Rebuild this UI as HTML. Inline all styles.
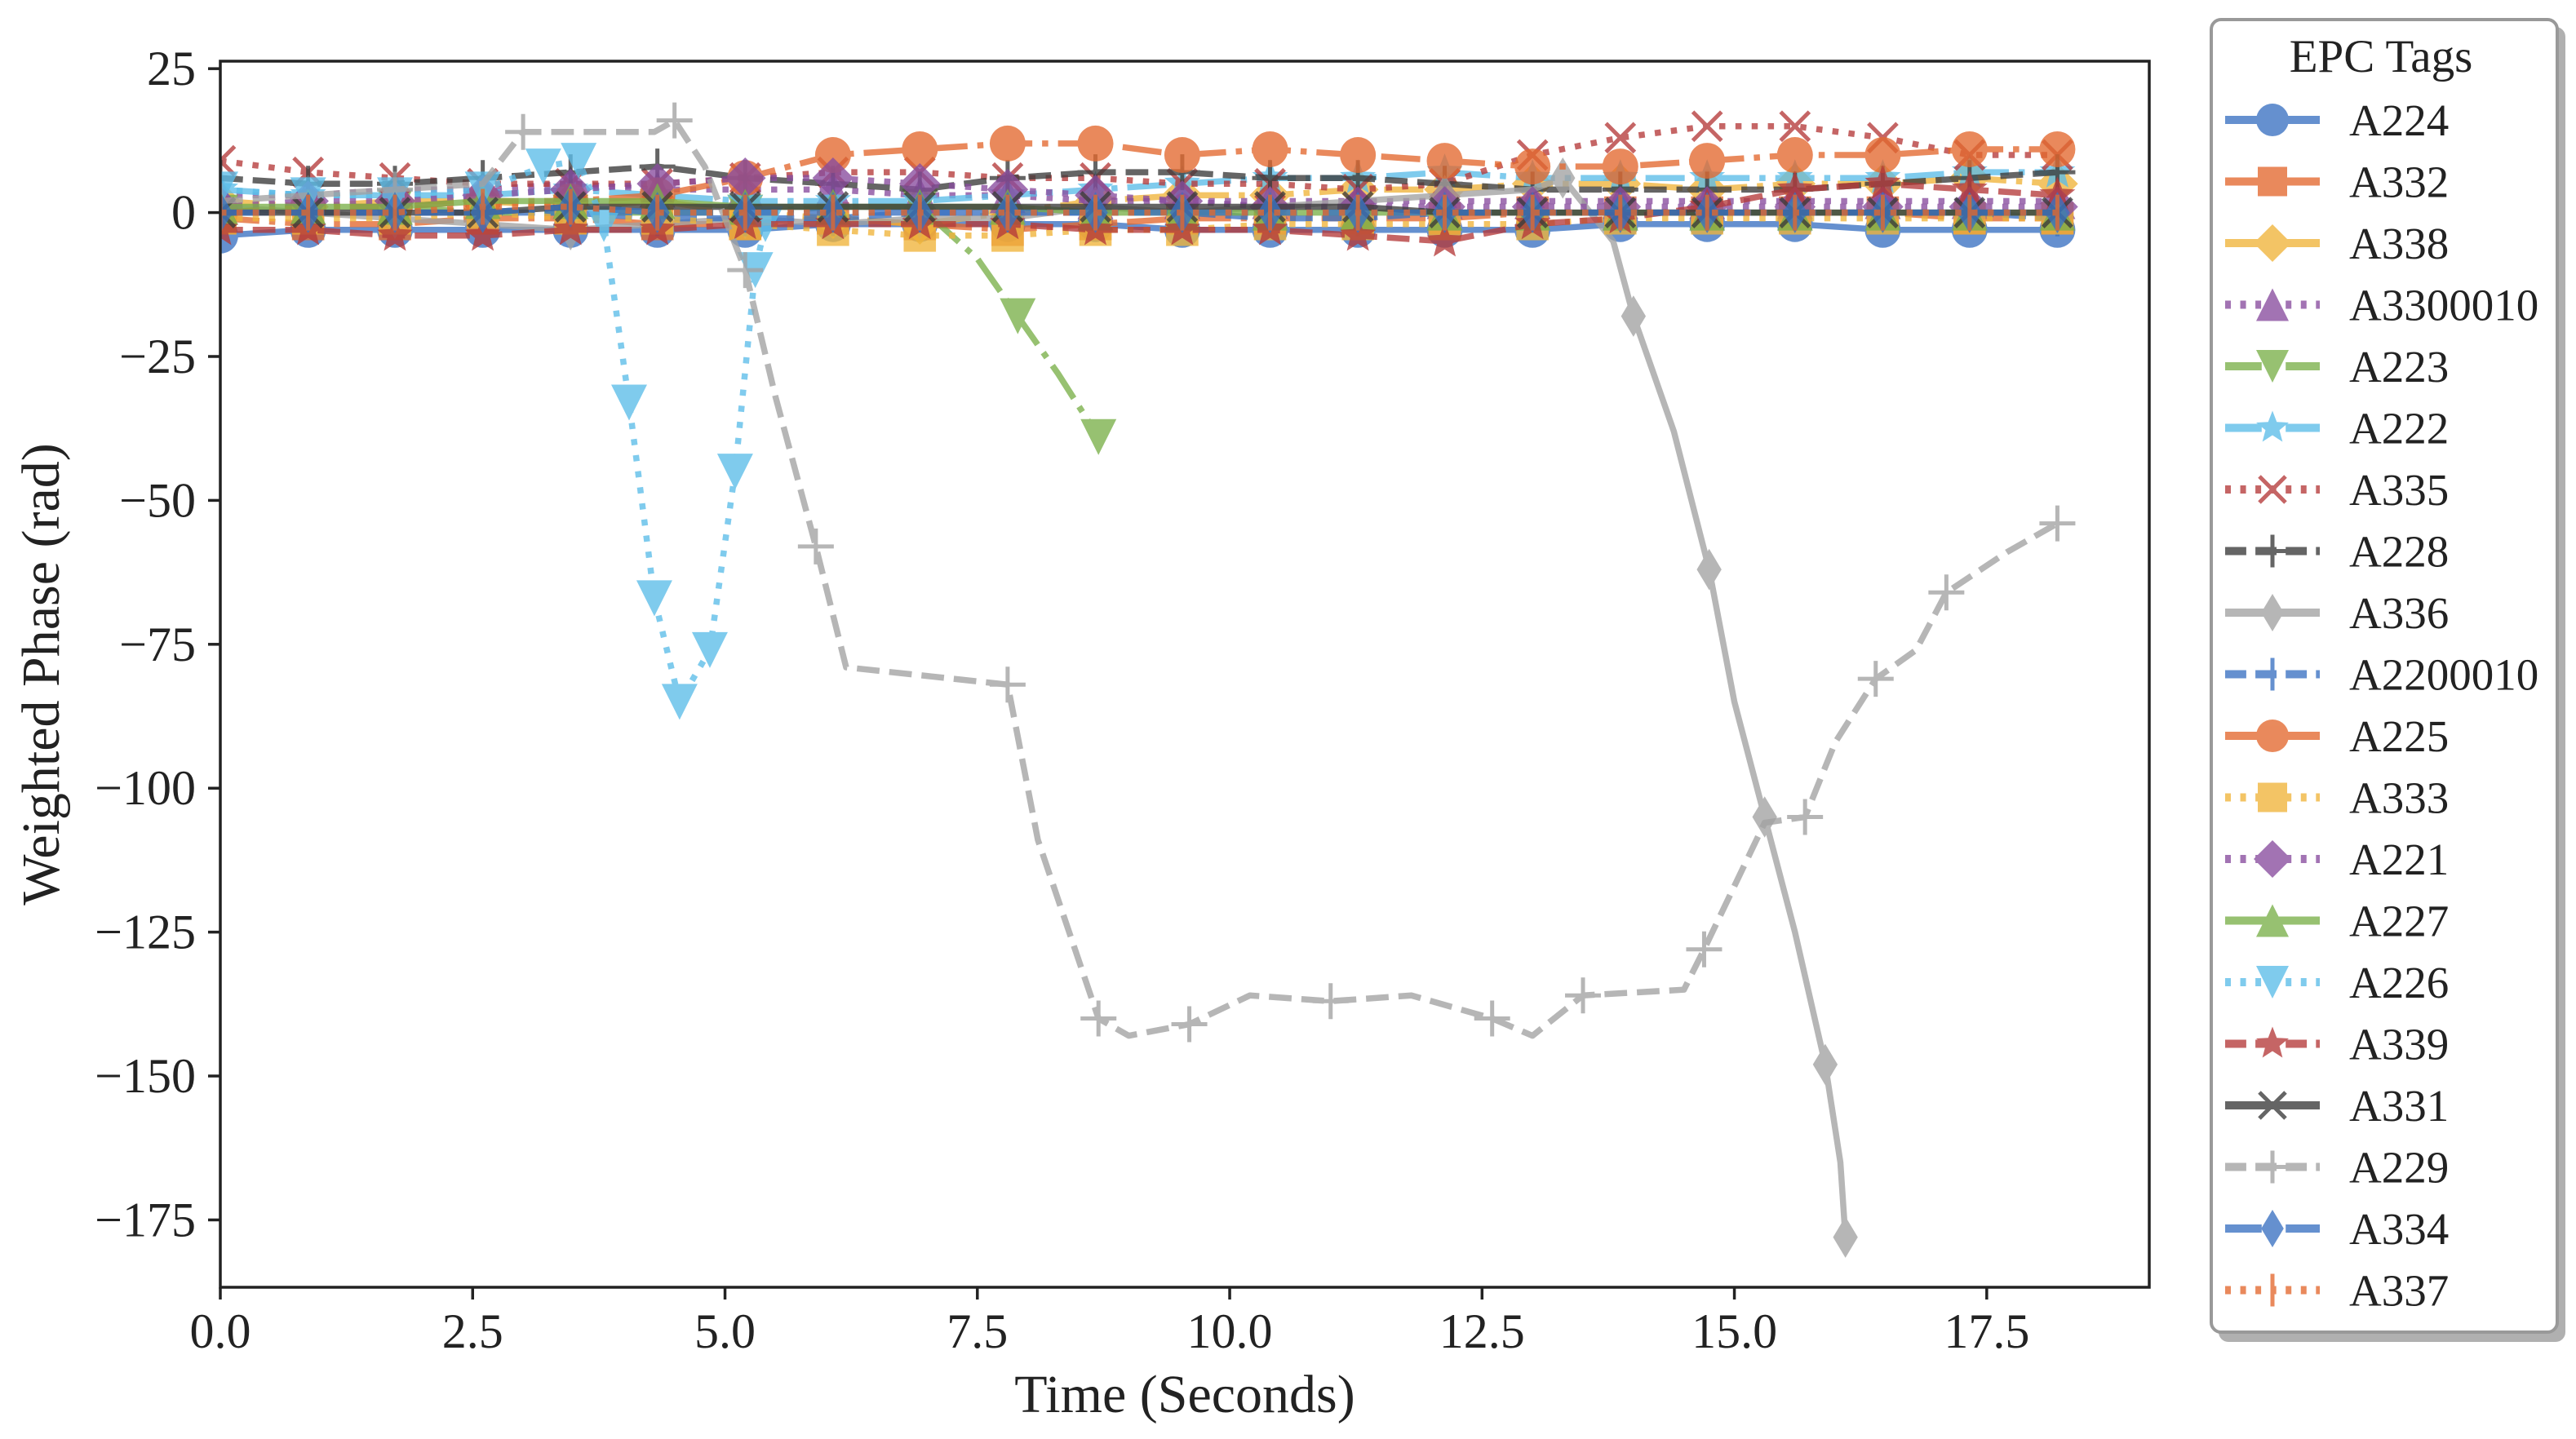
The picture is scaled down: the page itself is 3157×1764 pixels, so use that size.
<!DOCTYPE html>
<html><head><meta charset="utf-8">
<style>
html,body{margin:0;padding:0;background:#fff;}
svg{display:block;font-family:"Liberation Serif",serif;}
</style></head>
<body>
<svg id="chart" width="3157" height="1764" viewBox="0 0 3157 1764">
<rect x="0" y="0" width="3157" height="1764" fill="#fff"/>
<g id="plot"></g>
<g id="axes"></g>
<g id="legend"></g>
</svg>
<script>
// ---- data ----
const names = ["A224","A332","A338","A3300010","A223","A222","A335","A228","A336","A2200010","A225","A333","A221","A227","A226","A339","A331","A229","A334","A337"];
const colors = ["#3a72c2","#e3692f","#f0b43a","#884c9e","#7ab04a","#5cbde9","#b53a3a","#3b3b3b","#a2a2a2","#3a72c2","#e3692f","#f0b43a","#884c9e","#7ab04a","#5cbde9","#b53a3a","#3b3b3b","#a2a2a2","#3a72c2","#e3692f"];
const styles = ["solid","dashdot","dashdot","dotted","dashdot","dashdot","dotted","dashed","solid","dashed","dashdot","dotted","dotted","solid","dotted","dashed","solid","dashed","dashdot","dotted"];
const markers = ["o","s","D","^","v","*","x","+","d","|","o","s","D","^","v","*","x","+","d","|"];
const tGrid = [0,0.87,1.73,2.6,3.47,4.33,5.2,6.07,6.93,7.8,8.67,9.53,10.4,11.27,12.13,13,13.87,14.73,15.6,16.47,17.33,18.2];
const vA224 = [-4,-3,-3,-3,-3,-3,-3,-2,-2,-2,-2,-3,-3,-3,-3,-3,-2,-2,-2,-3,-3,-3];
const vA332 = [-1,-2,-2,-1,-1,-2,-2,-1,-2,-3,-2,-1,-1,-1,-1,0,0,0,0,0,-1,-1];
const vA338 = [2,1,2,2,1,2,0,-1,-2,0,2,3,3,4,4,5,5,4,5,5,6,5];
const vA3300010 = [3,3,4,4,5,4,4,4,3,3,2,2,2,2,2,2,2,2,2,2,2,2];
const vA222 = [4,3,3,3,4,3,2,2,2,3,4,5,6,6,7,6,6,6,6,6,7,7];
const vA335 = [9,7,6,5,5,5,6,7,7,6,6,5,5,4,5,10,13,15,15,13,10,10];
const vA228 = [6,5,5,6,7,8,6,5,4,6,7,7,6,6,5,4,4,4,4,5,6,7];
const vA2200010 = [0,0,0,0,0,-1,-1,-1,0,0,0,0,-1,-1,0,0,0,0,0,0,0,-1];
const vA225 = [0,1,1,2,2,3,6,10,11,12,12,10,11,10,9,8,8,9,10,10,11,11];
const vA333 = [-1,-1,-1,0,-1,-1,-2,-3,-4,-4,-3,-3,-2,-2,-2,-2,-1,-1,-1,-1,-1,-1];
const vA221 = [1,2,2,3,4,5,6,6,5,4,3,2,1,1,1,1,1,1,1,1,1,1];
const vA227 = [1,1,1,2,2,2,1,1,1,1,0,0,0,0,0,0,0,0,0,0,0,0];
const vA339 = [-3,-3,-4,-4,-3,-3,-2,-2,-2,-2,-3,-3,-3,-4,-5,-2,-1,1,4,5,4,3];
const vA331 = [0,0,0,0,1,1,1,1,1,1,1,1,1,1,0,0,0,0,0,0,0,0];
const vA334 = [0,0,0,0,1,0,0,0,0,0,0,0,0,0,0,0,0,0,0,0,0,0];
const vA337 = [0,0,0,1,1,0,0,0,0,0,0,0,0,0,0,0,0,0,0,0,0,0];
const tA223 = [0,0.87,1.73,2.6,3.47,4.33,5.2,6.07,6.93,7.5,7.9,8.3,8.7];
const vA223 = [0,1,1,0,0,0,0,1,1,-8,-18,-28,-39];
const tA226 = [0,0.87,1.73,2.6,3.2,3.55,3.8,4.05,4.3,4.55,4.85,5.1,5.3,5.4];
const vA226 = [4,3,3,4,8,9,-2,-33,-67,-85,-76,-45,-10,-2];
const tA229 = [0,0.87,1.73,2.6,3.0,4.3,4.5,4.8,5.2,5.5,5.9,6.2,7.8,8.1,8.7,9.0,9.6,10.2,11.0,11.8,12.6,13.0,13.5,14.5,14.7,15.3,15.7,16.0,16.4,16.8,17.1,17.7,18.2];
const vA229 = [2,3,4,5,14,14,16,8,-10,-32,-58,-79,-82,-109,-140,-143,-141,-136,-137,-136,-140,-143,-136,-135,-128,-106,-105,-92,-81,-76,-66,-59,-54];
const tA336 = [0,0.87,1.73,2.6,3.47,4.33,5.2,6.07,6.93,7.8,8.67,9.53,10.4,11.27,12.13,13.0,13.3,13.8,14.0,14.4,14.75,15.0,15.3,15.6,15.9,16.05,16.1];
const vA336 = [1,0,-1,-2,-3,-2,-1,-2,-1,-1,1,0,1,2,3,4,6,-5,-18,-38,-62,-85,-105,-125,-148,-165,-178];
const xTicks = [0,2.5,5,7.5,10,12.5,15,17.5];
const xTickLabels = ["0.0","2.5","5.0","7.5","10.0","12.5","15.0","17.5"];
const yTicks = [25,0,-25,-50,-75,-100,-125,-150,-175];
const yTickLabels = ["25","0","\u221225","\u221250","\u221275","\u2212100","\u2212125","\u2212150","\u2212175"];
const seriesT = [tGrid,tGrid,tGrid,tGrid,tA223,tGrid,tGrid,tGrid,tA336,tGrid,tGrid,tGrid,tGrid,tGrid,tA226,tGrid,tGrid,tA229,tGrid,tGrid];
const seriesV = [vA224,vA332,vA338,vA3300010,vA223,vA222,vA335,vA228,vA336,vA2200010,vA225,vA333,vA221,vA227,vA226,vA339,vA331,vA229,vA334,vA337];

// ---- axes geometry ----
const L=270,R=2634,T=75,B=1578;
const xMin=0,xMax=19.11,yMin=-186.7,yMax=26.3;
const sx=v=>L+(v-xMin)/(xMax-xMin)*(R-L);
const sy=v=>B-(v-yMin)/(yMax-yMin)*(B-T);
const NS="http://www.w3.org/2000/svg";
function mk(tag,attrs,parent){const e=document.createElementNS(NS,tag);for(const k in attrs)e.setAttribute(k,attrs[k]);parent.appendChild(e);return e;}
const LW=7.5;
function dash(s,lw){if(s==="dashed")return (3.7*lw)+" "+(1.6*lw);if(s==="dotted")return lw+" "+(1.65*lw);if(s==="dashdot")return (6.4*lw)+" "+(1.6*lw)+" "+lw+" "+(1.6*lw);return "none";}
function markerPath(m,x,y,r){
  switch(m){
    case "o":return `M${x-r},${y}a${r},${r} 0 1,0 ${2*r},0a${r},${r} 0 1,0 ${-2*r},0Z`;
    case "s":{const a=r*0.9;return `M${x-a},${y-a}h${2*a}v${2*a}h${-2*a}Z`;}
    case "D":{const a=r*1.15;return `M${x},${y-a}L${x+a},${y}L${x},${y+a}L${x-a},${y}Z`;}
    case "d":{const a=r*1.15;return `M${x},${y-a}L${x+a*0.6},${y}L${x},${y+a}L${x-a*0.6},${y}Z`;}
    case "^":return `M${x},${y-r}L${x+r},${y+r}L${x-r},${y+r}Z`;
    case "v":return `M${x},${y+r}L${x+r},${y-r}L${x-r},${y-r}Z`;
    case "*":{let p="";for(let i=0;i<10;i++){const ang=-Math.PI/2+i*Math.PI/5;const rr=i%2?r*0.45:r*1.05;p+=(i?"L":"M")+(x+rr*Math.cos(ang))+","+(y+rr*Math.sin(ang));}return p+"Z";}
  }
  return "";
}
function drawMarker(g,m,x,y,c,r){
  if(m==="x"){const a=r*0.8;mk("path",{d:`M${x-a},${y-a}L${x+a},${y+a}M${x-a},${y+a}L${x+a},${y-a}`,stroke:c,"stroke-width":5,fill:"none"},g);}
  else if(m==="+"){const a=r;mk("path",{d:`M${x-a},${y}L${x+a},${y}M${x},${y-a}L${x},${y+a}`,stroke:c,"stroke-width":5,fill:"none"},g);}
  else if(m==="|"){mk("path",{d:`M${x},${y-r}L${x},${y+r}`,stroke:c,"stroke-width":5,fill:"none"},g);}
  else mk("path",{d:markerPath(m,x,y,r),fill:c},g);
}
const plot=document.getElementById("plot");
const cp=mk("clipPath",{id:"clip"},plot);
mk("rect",{x:L,y:T,width:R-L,height:B-T},cp);
const pg=mk("g",{"clip-path":"url(#clip)"},plot);
for(let i=0;i<names.length;i++){
  const g=mk("g",{opacity:0.78},pg);
  
  
  const ts=seriesT[i],vs=seriesV[i];
  const pts=ts.map((t,j)=>sx(t)+","+sy(vs[j])).join(" ");
  mk("polyline",{points:pts,fill:"none",stroke:colors[i],"stroke-width":LW,"stroke-dasharray":dash(styles[i],LW),"stroke-linejoin":"round"},g);
  for(let j=0;j<ts.length;j++){
    if(ts===tGrid||ts===tA226||j%2===0||j===ts.length-1) drawMarker(g,markers[i],sx(ts[j]),sy(vs[j]),colors[i],22);
  }
}
// axes
const ax=document.getElementById("axes");
const frame=mk("rect",{x:L,y:T,width:R-L,height:B-T,fill:"none",stroke:"#222","stroke-width":3.5},ax);


xTicks.forEach((v,i)=>{
  mk("line",{x1:sx(v),x2:sx(v),y1:B,y2:B+15,stroke:"#222","stroke-width":3.5},ax);
  const t=mk("text",{x:sx(v),y:1652,"font-size":60,"text-anchor":"middle",fill:"#222"},ax);
  t.textContent=xTickLabels[i];
  
  
});
yTicks.forEach((v,i)=>{
  mk("line",{x1:L-15,x2:L,y1:sy(v),y2:sy(v),stroke:"#222","stroke-width":3.5},ax);
  const t=mk("text",{x:240,y:sy(v)+20,"font-size":60,"text-anchor":"end",fill:"#222"},ax);
  t.textContent=yTickLabels[i];
  
  
});
const xt=mk("text",{x:(L+R)/2,y:1731,"font-size":66,"text-anchor":"middle",fill:"#222"},ax);
xt.textContent="Time (Seconds)";


const yt=mk("text",{x:0,y:0,"font-size":66,"text-anchor":"middle",fill:"#222",transform:`translate(72,${(T+B)/2}) rotate(-90)`},ax);
yt.textContent="Weighted Phase (rad)";


// legend
const lg=document.getElementById("legend");


mk("rect",{x:2719,y:33,width:3144-2719,height:1645-33,rx:12,fill:"#b0b0b0"},lg);
mk("rect",{x:2710,y:24,width:3134-2710,height:1633-24,rx:12,fill:"#fff",stroke:"#999","stroke-width":4},lg);
const lt=mk("text",{x:2918,y:88,"font-size":57,"text-anchor":"middle",fill:"#222"},lg);
lt.textContent="EPC Tags";


for(let i=0;i<names.length;i++){
  const y=147+i*75.5;
  const g=mk("g",{},lg);
  
  
  const gi=mk("g",{opacity:0.78},g);
  mk("line",{x1:2727,x2:2843,y1:y,y2:y,stroke:colors[i],"stroke-width":10,"stroke-dasharray":dash(styles[i],7)},gi);
  drawMarker(gi,markers[i],2785,y,colors[i],20);
  const t=mk("text",{x:2879,y:y+19,"font-size":55,fill:"#222"},g);
  t.textContent=names[i];
}
</script>
</body></html>
